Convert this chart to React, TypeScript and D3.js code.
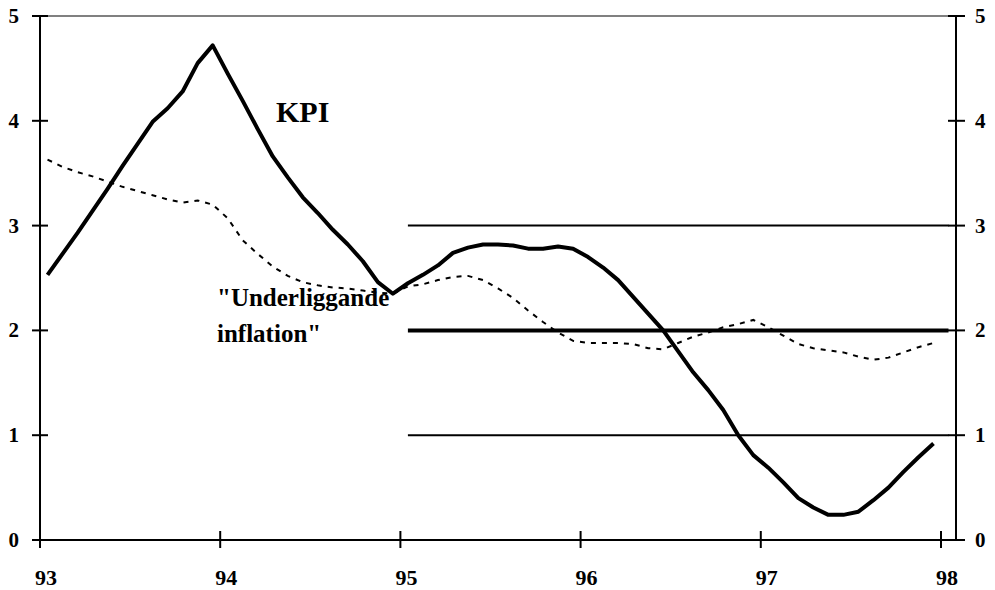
import { useEffect, useRef } from 'react'
import * as d3 from 'd3'

// monthly values, Jan 93 - Dec 97
const kpi = [
  2.53, 2.73, 2.93, 3.14, 3.35, 3.57, 3.78, 3.99, 4.12, 4.28, 4.55, 4.72,
  4.45, 4.19, 3.92, 3.66, 3.46, 3.27, 3.12, 2.96, 2.82, 2.66, 2.46, 2.35,
  2.45, 2.53, 2.62, 2.74, 2.79, 2.82, 2.82, 2.81, 2.78, 2.78, 2.80, 2.78,
  2.70, 2.60, 2.48, 2.32, 2.16, 2.00, 1.80, 1.60, 1.43, 1.24, 1.00, 0.81,
  0.69, 0.55, 0.40, 0.31, 0.24, 0.24, 0.27, 0.38, 0.50, 0.65, 0.79, 0.92
]

const underliggande = [
  3.63, 3.56, 3.51, 3.47, 3.42, 3.37, 3.33, 3.29, 3.25, 3.22, 3.24, 3.20,
  3.07, 2.86, 2.73, 2.61, 2.52, 2.46, 2.43, 2.41, 2.40, 2.38, 2.36, 2.35,
  2.42, 2.44, 2.48, 2.51, 2.52, 2.48, 2.40, 2.31, 2.19, 2.08, 1.98, 1.90,
  1.88, 1.88, 1.88, 1.87, 1.83, 1.82, 1.88, 1.94, 1.98, 2.03, 2.06, 2.10,
  2.03, 1.95, 1.87, 1.83, 1.81, 1.79, 1.75, 1.72, 1.74, 1.79, 1.84, 1.88
]

const yearLabels = ['93', '94', '95', '96', '97', '98']
const yTicks = [0, 1, 2, 3, 4, 5]
const targetLevels = [1, 2, 3]
const targetStart = 24 // Jan 95
const targetEnd = 60

function App() {
  const ref = useRef<SVGSVGElement>(null)

  useEffect(() => {
    const svg = d3.select(ref.current)
    svg.selectAll('*').remove()

    const left = 40
    const right = 956
    const top = 16
    const bottom = 540
    const font = "'Liberation Serif', 'Times New Roman', 'DejaVu Serif', serif"

    const x = d3.scaleLinear().domain([0, 61]).range([left, right])
    const y = d3.scaleLinear().domain([0, 5]).range([bottom, top])

    // top frame line
    svg.append('line')
      .attr('x1', left).attr('x2', right)
      .attr('y1', top).attr('y2', top)
      .attr('stroke', '#808080').attr('stroke-width', 2)

    // target band lines
    targetLevels.forEach(v => {
      svg.append('line')
        .attr('x1', x(targetStart + 0.5)).attr('x2', x(targetEnd + 0.5))
        .attr('y1', y(v)).attr('y2', y(v))
        .attr('stroke', '#000')
        .attr('stroke-width', v === 2 ? 4 : 2)
    })

    const line = d3.line<number>()
      .x((_, i) => x(i + 0.5))
      .y(d => y(d))

    svg.append('path')
      .datum(underliggande)
      .attr('d', line)
      .attr('fill', 'none')
      .attr('stroke', '#000')
      .attr('stroke-width', 2)
      .attr('stroke-dasharray', '5,6')

    svg.append('path')
      .datum(kpi)
      .attr('d', line)
      .attr('fill', 'none')
      .attr('stroke', '#000')
      .attr('stroke-width', 4)
      .attr('stroke-linejoin', 'round')

    // axes
    svg.append('line')
      .attr('x1', left).attr('x2', left)
      .attr('y1', top).attr('y2', bottom)
      .attr('stroke', '#000').attr('stroke-width', 2)
    svg.append('line')
      .attr('x1', right).attr('x2', right)
      .attr('y1', top).attr('y2', bottom)
      .attr('stroke', '#000').attr('stroke-width', 2)
    svg.append('line')
      .attr('x1', left).attr('x2', right)
      .attr('y1', bottom).attr('y2', bottom)
      .attr('stroke', '#000').attr('stroke-width', 2)

    yTicks.forEach(v => {
      svg.append('line')
        .attr('x1', left - 8).attr('x2', left + 8)
        .attr('y1', y(v)).attr('y2', y(v))
        .attr('stroke', '#000').attr('stroke-width', 2)
      svg.append('line')
        .attr('x1', right - 8).attr('x2', right + 9)
        .attr('y1', y(v)).attr('y2', y(v))
        .attr('stroke', '#000').attr('stroke-width', 2)
      svg.append('text')
        .attr('x', 19).attr('y', y(v) + 7)
        .attr('text-anchor', 'end')
        .style('font-family', font).attr('font-weight', 'bold').attr('font-size', 21)
        .text(v)
      svg.append('text')
        .attr('x', 975).attr('y', y(v) + 7)
        .style('font-family', font).attr('font-weight', 'bold').attr('font-size', 21)
        .text(v)
    })

    yearLabels.forEach((lab, i) => {
      const xp = x(i * 12)
      svg.append('line')
        .attr('x1', xp).attr('x2', xp)
        .attr('y1', bottom - 9).attr('y2', bottom + 8)
        .attr('stroke', '#000').attr('stroke-width', 2)
      svg.append('text')
        .attr('x', xp + 6).attr('y', 585)
        .attr('text-anchor', 'middle')
        .style('font-family', font).attr('font-weight', 'bold').attr('font-size', 22)
        .text(lab)
    })

    // series labels
    svg.append('text')
      .attr('x', 276).attr('y', 122)
      .style('font-family', font).attr('font-weight', 'bold').attr('font-size', 30)
      .text('KPI')
    svg.append('text')
      .attr('x', 217).attr('y', 306)
      .style('font-family', font).attr('font-weight', 'bold').attr('font-size', 25)
      .text('"Underliggande')
    svg.append('text')
      .attr('x', 217).attr('y', 342)
      .style('font-family', font).attr('font-weight', 'bold').attr('font-size', 25)
      .text('inflation"')
  }, [])

  return (
    <svg
      ref={ref}
      width={995}
      height={590}
      style={{ position: 'absolute', left: 0, top: 0, background: '#fff' }}
    />
  )
}

export default App
